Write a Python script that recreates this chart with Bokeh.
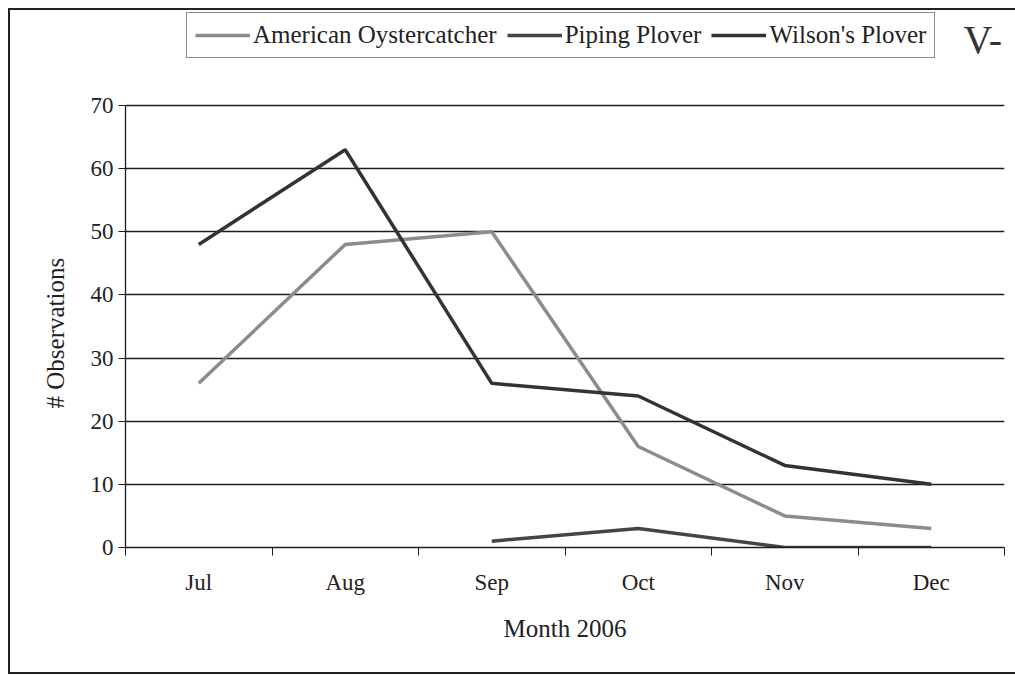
import math

from bokeh.embed import file_html
from bokeh.resources import INLINE
from bokeh.plotting import figure
from bokeh.models import (ColumnDataSource, Range1d, FixedTicker, Legend, LegendItem,
                          Label, Title)

# Monthly shorebird observations, July-December 2006
months = ["Jul", "Aug", "Sep", "Oct", "Nov", "Dec"]
american_oystercatcher = [26, 48, 50, 16, 5, 3]
piping_plover = [math.nan, math.nan, 1, 3, 0, 0]
wilsons_plover = [48, 63, 26, 24, 13, 10]
y_ticks = [0, 10, 20, 30, 40, 50, 60, 70]
y_max = 70

FONT = "Liberation Serif"
INK = "#1c1c1c"
TEXT = "#222222"

# canvas / plot-area geometry (pixels)
W, H = 1015, 666
AXIS_LEFT, AXIS_BOTTOM, AXIS_TOP, AXIS_RIGHT = 115, 537, 95, 994
# the plot area runs up to the canvas top so the legend box can sit above the 70 line
y_top = y_max * AXIS_BOTTOM / (AXIS_BOTTOM - AXIS_TOP)

# category centres sit half-way between the boundary ticks
x_pos = [i + 0.5 for i in range(len(months))]
src = ColumnDataSource(dict(x=x_pos, ao=american_oystercatcher,
                            pp=piping_plover, wp=wilsons_plover))

p = figure(width=W, height=H, output_backend="svg", toolbar_location=None,
           x_range=Range1d(0, len(months)), y_range=Range1d(0, y_top),
           min_border_left=AXIS_LEFT, min_border_right=W - AXIS_RIGHT,
           min_border_top=0, min_border_bottom=H - AXIS_BOTTOM,
           styles={"border": "2px solid #222222", "margin-left": "8px", "margin-top": "8px"})
p.background_fill_color = "white"
p.border_fill_color = "white"
p.outline_line_color = None

# series
r_ao = p.line("x", "ao", source=src, line_color="#8c8c8c", line_width=3.5)
r_pp = p.line("x", "pp", source=src, line_color="#454545", line_width=3.5)
r_wp = p.line("x", "wp", source=src, line_color="#333333", line_width=3.5)

# horizontal gridlines only
p.xgrid.grid_line_color = None
p.ygrid.grid_line_color = INK
p.ygrid.grid_line_width = 1.3
p.ygrid.ticker = FixedTicker(ticks=y_ticks)

# y axis, drawn only over 0-70
p.yaxis.bounds = (0, y_max)
p.yaxis.ticker = FixedTicker(ticks=y_ticks)
p.yaxis.axis_line_color = INK
p.yaxis.axis_line_width = 1.3
p.yaxis.major_tick_line_color = INK
p.yaxis.major_tick_out = 7
p.yaxis.major_tick_in = 0
p.yaxis.minor_tick_line_color = None
p.yaxis.major_label_standoff = 5
p.yaxis.major_label_text_font = FONT
p.yaxis.major_label_text_font_size = "23px"
p.yaxis.major_label_text_color = TEXT

# y axis title, centred on the 0-70 span rather than the whole plot area
y_title = Title(text="# Observations", align="left", offset=AXIS_BOTTOM - 398,
                standoff=37, text_font=FONT, text_font_size="25px",
                text_font_style="normal", text_color=TEXT)
p.add_layout(y_title, "left")

# x axis: labels at category centres, ticks on the boundaries
p.xaxis.ticker = FixedTicker(ticks=x_pos, minor_ticks=list(range(len(months) + 1)))
p.xaxis.major_label_overrides = {x: m for x, m in zip(x_pos, months)}
p.xaxis.axis_line_color = INK
p.xaxis.axis_line_width = 1.3
p.xaxis.major_tick_line_color = None
p.xaxis.major_tick_out = 0
p.xaxis.major_tick_in = 0
p.xaxis.minor_tick_line_color = INK
p.xaxis.minor_tick_out = 8
p.xaxis.minor_tick_in = 0
p.xaxis.major_label_standoff = 14
p.xaxis.major_label_text_font = FONT
p.xaxis.major_label_text_font_size = "23px"
p.xaxis.major_label_text_color = TEXT
p.xaxis.axis_label = "Month 2006"
p.xaxis.axis_label_text_font = FONT
p.xaxis.axis_label_text_font_style = "normal"
p.xaxis.axis_label_text_font_size = "25px"
p.xaxis.axis_label_text_color = TEXT
p.xaxis.axis_label_standoff = 17

# horizontal legend in a box above the 70 line
legend = Legend(items=[
    LegendItem(label="American Oystercatcher", renderers=[r_ao]),
    LegendItem(label="Piping Plover", renderers=[r_pp]),
    LegendItem(label="Wilson's Plover", renderers=[r_wp]),
], orientation="horizontal", location=(61, 489))
legend.label_text_font = FONT
legend.label_text_font_size = "25px"
legend.label_text_color = TEXT
legend.glyph_width = 55
legend.glyph_height = 20
legend.label_standoff = 3
legend.spacing = 10
legend.padding = 8
legend.margin = 0
legend.border_line_color = INK
legend.border_line_width = 1.5
legend.background_fill_alpha = 0
p.add_layout(legend, "center")

# reviewer's tick mark in the corner
mark = Label(x=838, y=AXIS_BOTTOM - 6, x_units="screen", y_units="screen", text="V-",
             text_font=FONT, text_font_size="40px", text_color="#333333",
             text_baseline="top")
p.add_layout(mark)

open("out.html", "w").write(file_html(p, INLINE))
